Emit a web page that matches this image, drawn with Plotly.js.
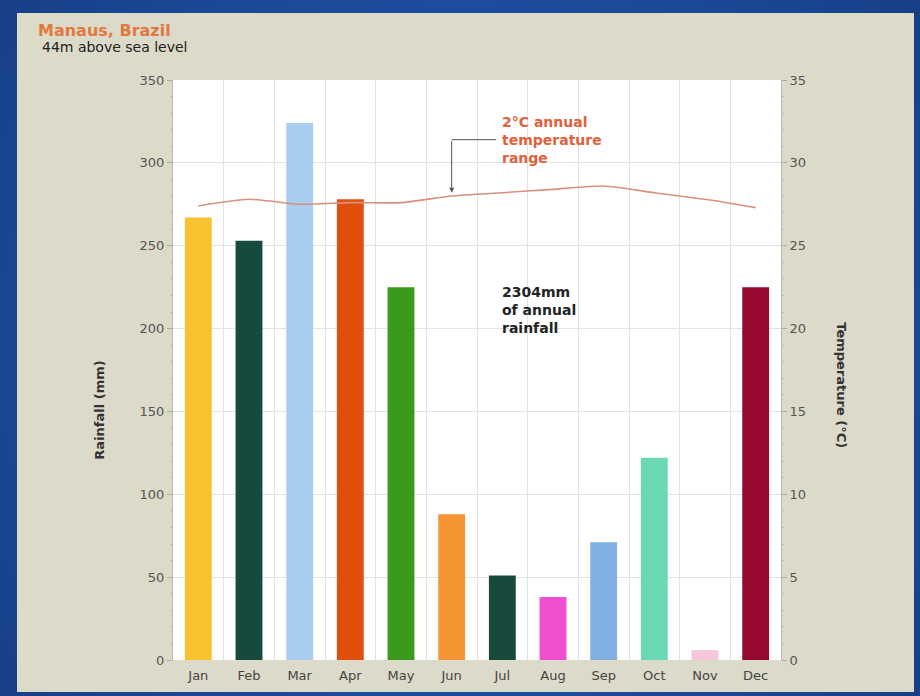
<!DOCTYPE html>
<html>
<head>
<meta charset="utf-8">
<script src="https://cdn.plot.ly/plotly-3.0.1.min.js"></script>
<style>
  html, body { margin:0; padding:0; width:920px; height:696px; overflow:hidden;
    background: radial-gradient(circle at 50% 50%, #2a5fb0 0%, #1d4c9c 60%, #173f86 100%); }
  #panel { position:absolute; left:17px; top:13px; width:897px; height:679px; background:#dcdac8; }
  #chart { position:absolute; left:0; top:0; width:897px; height:679px; }
</style>
</head>
<body>
<div id="panel"><div id="chart"></div></div>
<script>
const months = ["Jan","Feb","Mar","Apr","May","Jun","Jul","Aug","Sep","Oct","Nov","Dec"];
const rainfall = [267, 253, 324, 278, 225, 88, 51, 38, 71, 122, 6, 225];
const temperature = [27.4, 27.8, 27.5, 27.6, 27.6, 28.0, 28.2, 28.4, 28.6, 28.2, 27.8, 27.3];
const barColors = ["#f8c230","#174a3e","#a9cdf0","#e0500c","#3a9a1e","#f59432","#174a3c","#f050d0","#80b0e2","#6ad8b0","#f7c6da","#960a30"];
const leftTicks = [0,50,100,150,200,250,300,350];
const rightTicks = [0,5,10,15,20,25,30,35];

const FONT = "DejaVu Sans, Verdana, sans-serif";

const traces = [
  { type:"bar", x:months, y:rainfall, marker:{color:barColors}, width:0.53,
    hoverinfo:"x+y", showlegend:false },
  { type:"scatter", mode:"lines", x:months, y:temperature, yaxis:"y2",
    line:{color:"#d8907e", width:1.6, shape:"spline", smoothing:0.6}, showlegend:false }
];

const layout = {
  width:897, height:679,
  margin:{l:156, r:133, t:67, b:32},
  paper_bgcolor:"#dcdac8",
  plot_bgcolor:"#ffffff",
  font:{family:FONT, size:13, color:"#555"},
  xaxis:{type:"category", tickson:"boundaries", showgrid:true, gridcolor:"#e2e2e2",
    ticks:"", showline:false, ticklabelstandoff:6, tickfont:{size:13, color:"#444"}, range:[-0.5, 11.5]},
  yaxis:{range:[0,350], tickvals:leftTicks, showgrid:true, gridcolor:"#e2e2e2",
    showline:true, linecolor:"#b8b8b8", ticks:"outside", ticklen:5, tickcolor:"#aaa",
    minor:{dtick:10, ticks:"outside", ticklen:2, tickcolor:"#bbb", showgrid:false},
    tickfont:{size:13, color:"#555"}, zeroline:false},
  yaxis2:{range:[0,35], tickvals:rightTicks, overlaying:"y", side:"right", showgrid:false,
    showline:true, linecolor:"#b8b8b8", ticks:"outside", ticklen:5, tickcolor:"#aaa",
    minor:{dtick:1, ticks:"outside", ticklen:2, tickcolor:"#bbb"},
    tickfont:{size:13, color:"#555"}, zeroline:false},
  shapes:[
    {type:"line", xref:"x", yref:"y2", x0:5, x1:5.88, y0:31.4, y1:31.4,
     line:{color:"#555", width:1}}
  ],
  annotations:[
    {xref:"paper", yref:"paper", x:-0.225, y:1.086, xanchor:"left", yanchor:"middle", showarrow:false,
     text:"<b>Manaus, Brazil</b>", font:{size:16, color:"#e2783e"}},
    {xref:"paper", yref:"paper", x:-0.219, y:1.057, xanchor:"left", yanchor:"middle", showarrow:false,
     text:"44m above sea level", font:{size:14, color:"#222"}},
    {xref:"paper", yref:"paper", x:-0.12, y:0.43, xanchor:"center", yanchor:"middle", showarrow:false,
     textangle:-90, text:"<b>Rainfall (mm)</b>", font:{size:13, color:"#333"}},
    {xref:"paper", yref:"paper", x:1.1, y:0.474, xanchor:"center", yanchor:"middle", showarrow:false,
     textangle:90, text:"<b>Temperature (°C)</b>", font:{size:13, color:"#333"}},
    {xref:"x", yref:"y2", x:5.95, y:31.4, xanchor:"left", yanchor:"middle", showarrow:false, align:"left",
     text:"<b>2°C annual<br>temperature<br>range</b>", font:{size:14, color:"#e2603a"}},
    {xref:"x", yref:"y", x:5.95, y:211, xanchor:"left", yanchor:"middle", showarrow:false, align:"left",
     text:"<b>2304mm<br>of annual<br>rainfall</b>", font:{size:14, color:"#222"}},
    {xref:"x", yref:"y2", x:5, y:28.2, ax:5, ay:31.4, axref:"x", ayref:"y2", showarrow:true,
     arrowhead:2, arrowsize:1, arrowwidth:1, arrowcolor:"#555", text:""}
  ]
};

Plotly.newPlot("chart", traces, layout, {displayModeBar:false, staticPlot:true});
</script>
</body>
</html>
